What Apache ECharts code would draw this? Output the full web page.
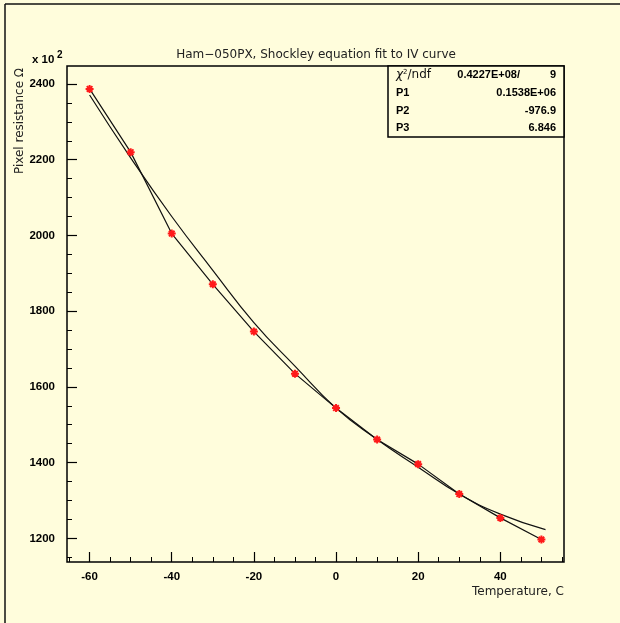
<!DOCTYPE html>
<html>
<head>
<meta charset="utf-8">
<script src="https://cdn.jsdelivr.net/npm/echarts@6/dist/echarts.min.js"></script>
<style>
html,body{margin:0;padding:0;background:#fffddc;}
#chart{width:620px;height:623px;}
</style>
</head>
<body>
<div id="chart"></div>
<script>
// ---- data ----
const temperature = [-60, -50, -40, -30, -20, -10, 0, 10, 20, 30, 40, 50];
const resistance  = [2387, 2220, 2005, 1871, 1746, 1635, 1544, 1461, 1396, 1317, 1254, 1197];
// fitted Shockley curve
const fitTemperature = [-60, -50, -40, -30, -20, -10, 0, 10, 20, 30, 40, 51];
const fitResistance  = [2371, 2205, 2050, 1908, 1770, 1655, 1544, 1461, 1388, 1317, 1264, 1223];
// tick labels / tick positions
const xMajorTicks = [-60, -40, -20, 0, 20, 40];
const xMinorTicks = [-65, -55, -50, -45, -35, -30, -25, -15, -10, -5, 5, 10, 15, 25, 30, 35, 45, 50, 55];
const yMajorTicks = [1200, 1400, 1600, 1800, 2000, 2200, 2400];
const yMinorTicks = [1150, 1250, 1300, 1350, 1450, 1500, 1550, 1650, 1700, 1750, 1850, 1900, 1950, 2050, 2100, 2150, 2250, 2300, 2350];
// fit statistics box
const statLabels = ['P1', 'P2', 'P3'];
const statValues = ['0.1538E+06', '-976.9', '6.846'];
const chiValue = '0.4227E+08/';
const ndfValue = '9';

const BG = '#fffddc';
const xMin = -65.5, xMax = 55.5, yMin = 1137.5, yMax = 2447.5;
const labelFont = {fontFamily: 'Liberation Sans', fontWeight: 'bold', fontSize: 11.5, color: '#000'};
const textFont = 'DejaVu Sans';
const plain = function (v) { return String(v); };

const chart = echarts.init(document.getElementById('chart'), null, {renderer: 'canvas'});

const graphics = [
  {type: 'line', shape: {x1: 5, y1: 4, x2: 620, y2: 4}, style: {stroke: '#111', lineWidth: 1.5}, silent: true},
  {type: 'line', shape: {x1: 5, y1: 4, x2: 5, y2: 623}, style: {stroke: '#111', lineWidth: 1.5}, silent: true},
  {type: 'text', x: 316, y: 55, style: {text: 'Ham\u2212050PX, Shockley equation fit to IV curve', fontFamily: textFont, fontSize: 12, fill: '#222', align: 'center', verticalAlign: 'middle'}},
  {type: 'text', x: 32, y: 60, style: {text: 'x 10', fontFamily: 'Liberation Sans', fontWeight: 'bold', fontSize: 11.5, fill: '#000', align: 'left', verticalAlign: 'middle'}},
  {type: 'text', x: 57, y: 55, style: {text: '2', fontFamily: 'Liberation Sans', fontWeight: 'bold', fontSize: 10, fill: '#000', align: 'left', verticalAlign: 'middle'}},
  {type: 'text', x: 20, y: 68, rotation: Math.PI / 2, style: {text: 'Pixel resistance \u03A9', fontFamily: textFont, fontSize: 12, fill: '#222', align: 'right', verticalAlign: 'middle'}},
  {type: 'text', x: 564, y: 592, style: {text: 'Temperature, C', fontFamily: textFont, fontSize: 12, fill: '#222', align: 'right', verticalAlign: 'middle'}},
  {type: 'rect', z: 10, shape: {x: 388, y: 66, width: 176, height: 71}, style: {fill: BG, stroke: '#000', lineWidth: 1.5}},
  {type: 'text', z: 11, x: 396, y: 75, style: {text: '{c|\u03C7}{s|2}{n|/ndf}', rich: {c: {fontFamily: textFont, fontSize: 12, fill: '#111', fontStyle: 'italic'}, s: {fontFamily: textFont, fontSize: 7, fill: '#111', verticalAlign: 'top', padding: [0, 0, 6, 0]}, n: {fontFamily: textFont, fontSize: 12, fill: '#111'}}, align: 'left', verticalAlign: 'middle'}},
  {type: 'text', z: 11, x: 520, y: 75, style: {text: chiValue, fontFamily: 'Liberation Sans', fontWeight: 'bold', fontSize: 11, fill: '#000', align: 'right', verticalAlign: 'middle'}},
  {type: 'text', z: 11, x: 556, y: 75, style: {text: ndfValue, fontFamily: 'Liberation Sans', fontWeight: 'bold', fontSize: 11, fill: '#000', align: 'right', verticalAlign: 'middle'}}
];
statLabels.forEach(function (lab, i) {
  const y = 93 + i * 17.5;
  graphics.push({type: 'text', z: 11, x: 396, y: y, style: {text: lab, fontFamily: 'Liberation Sans', fontWeight: 'bold', fontSize: 11, fill: '#000', align: 'left', verticalAlign: 'middle'}});
  graphics.push({type: 'text', z: 11, x: 556, y: y, style: {text: statValues[i], fontFamily: 'Liberation Sans', fontWeight: 'bold', fontSize: 11, fill: '#000', align: 'right', verticalAlign: 'middle'}});
});

const asterisk = 'path://M5,0 L5,10 M0,5 L10,5 M1.5,1.5 L8.5,8.5 M1.5,8.5 L8.5,1.5';

const option = {
  backgroundColor: BG,
  animation: false,
  grid: {left: 67, top: 66, width: 497, height: 496, show: true, borderColor: '#000', borderWidth: 1.5, backgroundColor: 'transparent'},
  xAxis: [
    {type: 'value', min: xMin, max: xMax, position: 'bottom',
     axisLine: {show: false, onZero: false}, splitLine: {show: false},
     axisTick: {show: true, inside: true, length: 10, lineStyle: {color: '#000', width: 1.2}, customValues: xMajorTicks},
     axisLabel: Object.assign({show: true, margin: 9, customValues: xMajorTicks, formatter: plain}, labelFont)},
    {type: 'value', min: xMin, max: xMax, position: 'bottom',
     axisLine: {show: false, onZero: false}, splitLine: {show: false},
     axisTick: {show: true, inside: true, length: 5, lineStyle: {color: '#000', width: 1}, customValues: xMinorTicks},
     axisLabel: {show: false}}
  ],
  yAxis: [
    {type: 'value', min: yMin, max: yMax, position: 'left',
     axisLine: {show: false, onZero: false}, splitLine: {show: false},
     axisTick: {show: true, inside: true, length: 10, lineStyle: {color: '#000', width: 1.2}, customValues: yMajorTicks},
     axisLabel: Object.assign({show: true, margin: 12, customValues: yMajorTicks, formatter: plain}, labelFont)},
    {type: 'value', min: yMin, max: yMax, position: 'left',
     axisLine: {show: false, onZero: false}, splitLine: {show: false},
     axisTick: {show: true, inside: true, length: 5, lineStyle: {color: '#000', width: 1}, customValues: yMinorTicks},
     axisLabel: {show: false}}
  ],
  series: [
    {type: 'line', name: 'fit', xAxisIndex: 0, yAxisIndex: 0,
     data: fitTemperature.map(function (t, i) { return [t, fitResistance[i]]; }),
     smooth: true, showSymbol: false, symbol: 'none',
     lineStyle: {color: '#111', width: 1.2}, z: 2, silent: true},
    {type: 'line', name: 'data', xAxisIndex: 0, yAxisIndex: 0,
     data: temperature.map(function (t, i) { return [t, resistance[i]]; }),
     symbol: asterisk, symbolSize: 8, showSymbol: true,
     itemStyle: {color: 'rgba(0,0,0,0)', borderColor: '#ff1a1a', borderWidth: 2},
     lineStyle: {color: '#111', width: 1.2}, z: 3, silent: true}
  ],
  graphic: graphics
};
chart.setOption(option);
</script>
</body>
</html>
